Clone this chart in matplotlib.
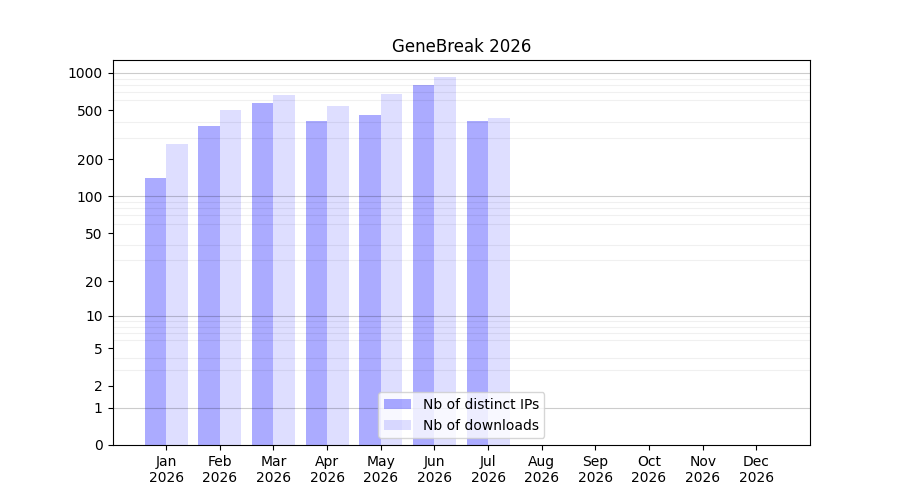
import numpy as np
import matplotlib
matplotlib.use('Agg')
import matplotlib.pyplot as plt
from matplotlib.ticker import FixedLocator

months = ['Jan', 'Feb', 'Mar', 'Apr', 'May', 'Jun', 'Jul', 'Aug', 'Sep', 'Oct', 'Nov', 'Dec']
year = 2026
distinct_ips = [140, 375, 570, 405, 455, 800, 405, 0, 0, 0, 0, 0]
downloads = [265, 505, 660, 545, 670, 920, 430, 0, 0, 0, 0, 0]
major_ticks = [0, 1, 2, 5, 10, 20, 50, 100, 200, 500, 1000]

x = np.arange(len(months))

fig, ax = plt.subplots(figsize=(9, 5), dpi=100)
ax.set_yscale('function', functions=(lambda v: np.log10(np.maximum(v, 0) + 1),
                                      lambda v: 10 ** v - 1))

ax.bar(x, distinct_ips, width=-0.4, align='edge', color='blue', alpha=0.33,
       label='Nb of distinct IPs')
ax.bar(x, downloads, width=0.4, align='edge', color='blue', alpha=0.13,
       label='Nb of downloads')

ax.set_xlim(-1, 12)
ax.set_ylim(0, 1270)
ax.set_xticks(x)
ax.set_xticklabels([f'{m}\n{year}' for m in months])

ax.yaxis.set_major_locator(FixedLocator(major_ticks))
ax.set_yticklabels([str(t) for t in major_ticks])
minor = [m * d for d in (1, 10, 100, 1000) for m in range(2, 10)]
ax.yaxis.set_minor_locator(FixedLocator([v for v in minor if v < 1270]))
ax.tick_params(axis='y', which='minor', length=0)

# darker lines on the decades, faint ones in between
for v in (1, 10, 100, 1000):
    ax.axhline(v, color='black', alpha=0.2, lw=0.8, zorder=3)
ax.grid(True, which='minor', axis='y', color='black', alpha=0.06, lw=0.8)

ax.set_title(f'GeneBreak {year}')
ax.legend(loc='lower center')

plt.savefig('out.png', dpi=100)
